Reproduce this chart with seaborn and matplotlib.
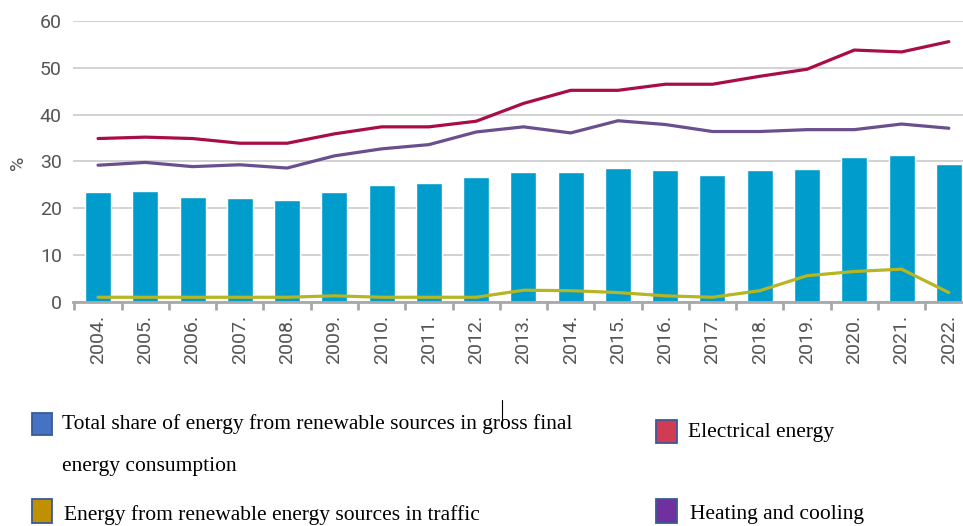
import matplotlib
matplotlib.use("Agg")
import matplotlib.pyplot as plt
from matplotlib.patches import Rectangle
from matplotlib.lines import Line2D
import numpy as np
import pandas as pd
import seaborn as sns

years = ["2004.", "2005.", "2006.", "2007.", "2008.", "2009.", "2010.", "2011.", "2012.",
         "2013.", "2014.", "2015.", "2016.", "2017.", "2018.", "2019.", "2020.", "2021.", "2022."]
total_share = [23.4, 23.7, 22.5, 22.1, 21.8, 23.4, 25.0, 25.3, 26.6,
               27.8, 27.8, 28.7, 28.1, 27.2, 28.1, 28.4, 30.9, 31.3, 29.4]
electrical = [34.9, 35.2, 34.9, 33.9, 33.9, 35.9, 37.4, 37.4, 38.6,
              42.4, 45.2, 45.2, 46.5, 46.5, 48.2, 49.7, 53.8, 53.4, 55.6]
heating = [29.2, 29.8, 28.9, 29.3, 28.6, 31.2, 32.7, 33.6, 36.3,
           37.4, 36.1, 38.7, 37.9, 36.4, 36.4, 36.8, 36.8, 38.0, 37.1]
traffic = [1.0, 1.0, 1.0, 1.0, 1.0, 1.3, 1.0, 1.0, 1.0,
           2.5, 2.4, 2.0, 1.3, 1.0, 2.4, 5.6, 6.5, 7.0, 2.0]

sns.set_theme(style="white")
plt.rcParams['font.family'] = ['Roboto', 'DejaVu Sans']

df = pd.DataFrame({"year": years, "total": total_share, "electrical": electrical,
                   "heating": heating, "traffic": traffic})
df["pos"] = np.arange(len(years))

fig = plt.figure(figsize=(9.63, 5.26), dpi=100)
ax = fig.add_axes([0.0758, 0.426, 0.9242, 0.534])

sns.barplot(data=df, x="year", y="total", color="#009ccb", saturation=1, width=0.55, ax=ax)
sns.lineplot(data=df, x="pos", y="electrical", color="#a80d48", lw=2.3, ax=ax,
             solid_capstyle="round")
sns.lineplot(data=df, x="pos", y="heating", color="#6b4e8e", lw=2.3, ax=ax,
             solid_capstyle="round")
sns.lineplot(data=df, x="pos", y="traffic", color="#b6b522", lw=2.3, ax=ax,
             solid_capstyle="round")

ax.set_yticks(range(0, 61, 10))
ax.yaxis.grid(True, color="#cbcbcb", lw=1.2)
ax.set_axisbelow(True)
for s in ["left", "right", "top"]:
    ax.spines[s].set_visible(False)
ax.spines["bottom"].set_color("#a8a8a8")
ax.spines["bottom"].set_linewidth(2)

ax.set_xticks(np.arange(len(years)))
ax.set_xticklabels(years, rotation=90, fontsize=14, color="#555555")
ax.tick_params(axis="x", which="major", length=0, pad=9)
ax.tick_params(axis="y", length=0, pad=8, labelsize=14, labelcolor="#555555")
# boundary ticks
ax.set_xticks(np.arange(len(years) + 1) - 0.5, minor=True)
ax.tick_params(axis="x", which="minor", bottom=True, length=6, width=2,
               color="#a8a8a8", direction="out")
ax.set_xlabel("")
ax.set_ylabel("%", fontsize=14, color="#555555")
ax.yaxis.set_label_coords(-0.062, 0.495)
ax.yaxis.label.set_va("center")

ax.set_ylim(0, 60)
ax.set_xlim(-0.53, 18.3)

# legend (manual, below chart)
serif = ['Liberation Serif', 'DejaVu Serif']
H = 526.0
W = 963.0
def patch(x0, y0, w, h, face):
    fig.add_artist(Rectangle((x0 / W, 1 - (y0 + h) / H), w / W, h / H,
                             transform=fig.transFigure, facecolor=face,
                             edgecolor="#3a5a93", lw=1.3))

patch(32, 413, 20, 22, "#4472c4")
patch(32, 499, 20, 24, "#bf9000")
patch(656, 420, 21, 23, "#d13b53")
patch(656, 499, 21, 24, "#7030a0")

fs = 15.5
fig.text(62 / W, 1 - 424 / H, "Total share of energy from renewable sources in gross final",
         family=serif, fontsize=fs, va="center", ha="left", color="black")
fig.text(62 / W, 1 - 466 / H, "energy consumption",
         family=serif, fontsize=fs, va="center", ha="left", color="black")
fig.text(64 / W, 1 - 515 / H, "Energy from renewable energy sources in traffic",
         family=serif, fontsize=fs, va="center", ha="left", color="black")
fig.text(688 / W, 1 - 432 / H, "Electrical energy",
         family=serif, fontsize=fs, va="center", ha="left", color="black")
fig.text(690 / W, 1 - 514 / H, "Heating and cooling",
         family=serif, fontsize=fs, va="center", ha="left", color="black")

# text cursor artifact
fig.add_artist(Line2D([502 / W, 502 / W], [1 - 400 / H, 1 - 426 / H],
                      transform=fig.transFigure, color="black", lw=0.8))

fig.savefig("out.png", dpi=100)
